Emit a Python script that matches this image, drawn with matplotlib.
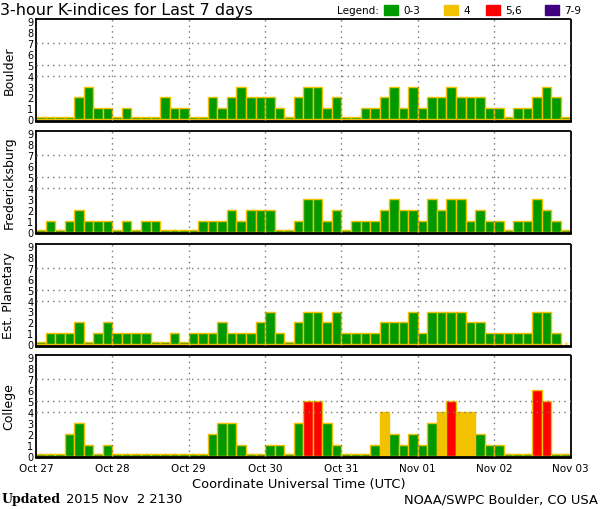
import numpy as np
import matplotlib
matplotlib.use('Agg')
import matplotlib.pyplot as plt

# K-index values, 8 slots per day, Oct 27 .. Nov 02 (None = no data yet)
boulder = [0, 0, 0, 0, 2, 3, 1, 1,  0, 1, 0, 0, 0, 2, 1, 1,
           0, 0, 2, 1, 2, 3, 2, 2,  2, 1, 0, 2, 3, 3, 1, 2,
           0, 0, 1, 1, 2, 3, 1, 3,  1, 2, 2, 3, 2, 2, 2, 1,
           1, 0, 1, 1, 2, 3, 2, 0]
fredericksburg = [0, 1, 0, 1, 2, 1, 1, 1,  0, 1, 0, 1, 1, 0, 0, 0,
                  0, 1, 1, 1, 2, 1, 2, 2,  2, 0, 0, 1, 3, 3, 1, 2,
                  0, 1, 1, 1, 2, 3, 2, 2,  1, 3, 2, 3, 3, 1, 2, 1,
                  1, 0, 1, 1, 3, 2, 1, 0]
planetary = [0, 1, 1, 1, 2, 0, 1, 2,  1, 1, 1, 1, 0, 0, 1, 0,
             1, 1, 1, 2, 1, 1, 1, 2,  3, 1, 0, 2, 3, 3, 2, 3,
             1, 1, 1, 1, 2, 2, 2, 3,  1, 3, 3, 3, 3, 2, 2, 1,
             1, 1, 1, 1, 3, 3, 1, None]
college = [0, 0, 0, 2, 3, 1, 0, 1,  0, 0, 0, 0, 0, 0, 0, 0,
           0, 0, 2, 3, 3, 1, 0, 0,  1, 1, 0, 3, 5, 5, 3, 1,
           0, 0, 0, 1, 4, 2, 1, 2,  1, 3, 4, 5, 4, 4, 2, 1,
           1, 0, 0, 0, 6, 5, 0, 0]

stations = ['Boulder', 'Fredericksburg', 'Est. Planetary', 'College']
series = [boulder, fredericksburg, planetary, college]
day_labels = ['Oct 27', 'Oct 28', 'Oct 29', 'Oct 30', 'Oct 31', 'Nov 01', 'Nov 02', 'Nov 03']

GREEN = '#009900'
YELLOW = '#F2C200'
RED = '#FF0000'
PURPLE = '#400080'
EDGE = '#F2C200'

def kcolor(k):
    if k <= 3:
        return GREEN
    if k == 4:
        return YELLOW
    if k <= 6:
        return RED
    return PURPLE

fig = plt.figure(figsize=(6, 5.1), dpi=100)
W, H = 600.0, 510.0
left, right = 36.0, 570.5
tops = [19.5, 132.0, 244.5, 356.0]
ph = 102.0

for n, (name, vals) in enumerate(zip(stations, series)):
    ax = fig.add_axes([left / W, 1 - (tops[n] + ph) / H, (right - left) / W, ph / H])
    idx = [i for i, v in enumerate(vals) if v is not None]
    kv = [vals[i] for i in idx]
    heights = [v if v > 0 else 0.18 for v in kv]
    ax.bar(idx, heights, width=1, align='edge', color=[kcolor(v) for v in kv],
           edgecolor=EDGE, linewidth=1.0, zorder=2)

    ax.set_xlim(0, 56)
    ax.set_ylim(-0.1, 9.2)
    # dotted grid on top of bars
    for y in [4, 5, 7]:
        ax.axhline(y, color='#777777', ls=(0, (1, 3)), lw=1.0, zorder=3)
    for d in range(1, 7):
        ax.axvline(d * 8, color='#777777', ls=(0, (1, 3)), lw=1.0, zorder=3)

    ax.set_yticks(range(10))
    ax.set_yticklabels([str(i) for i in range(10)], fontsize=7)
    ax.tick_params(axis='y', length=0, pad=2)
    ax.set_xticks(np.arange(0, 57, 8))
    ax.set_xticks(np.arange(0.5, 56, 1), minor=True)
    ax.tick_params(axis='x', which='major', length=0)
    ax.tick_params(axis='x', which='minor', direction='in', length=3, width=1, color=EDGE)
    if n == 3:
        ax.set_xticklabels(day_labels, fontsize=7.5)
        ax.tick_params(axis='x', which='major', pad=4)
    else:
        ax.set_xticklabels([])

    for s in ['top', 'left']:
        ax.spines[s].set_linewidth(1.3)
    ax.spines['bottom'].set_linewidth(2)
    ax.spines['right'].set_linestyle((0, (2, 1)))
    ax.spines['right'].set_linewidth(1.3)

    fig.text(9 / W, 1 - (tops[n] + ph / 2) / H, name, rotation=90,
             ha='center', va='center', fontsize=9)

fig.text(0, 1 - 10 / H, '3-hour K-indices for Last 7 days', fontsize=11.5,
         ha='left', va='center')

# legend row
fig.text(337 / W, 1 - 11 / H, 'Legend:', fontsize=7.5, ha='left', va='center')
for x0, col, lab in [(384, GREEN, '0-3'), (444, YELLOW, '4'), (486, RED, '5,6'), (545, PURPLE, '7-9')]:
    fig.patches.append(plt.Rectangle((x0 / W, 1 - 16 / H), 14 / W, 10 / H,
                                     color=col, transform=fig.transFigure, figure=fig))
    fig.text((x0 + 19) / W, 1 - 11 / H, lab, fontsize=7.5, ha='left', va='center')

fig.text(299 / W, 1 - 485 / H, 'Coordinate Universal Time (UTC)', fontsize=9.4,
         ha='center', va='center')
fig.text(2 / W, 1 - 500 / H, 'Updated', fontsize=9, fontweight='bold',
         family='DejaVu Serif', ha='left', va='center')
fig.text(66 / W, 1 - 500 / H, '2015 Nov  2 2130', fontsize=9.4, ha='left', va='center')
fig.text(598 / W, 1 - 500 / H, 'NOAA/SWPC Boulder, CO USA', fontsize=9.4,
         ha='right', va='center')

fig.savefig('out.png', dpi=100)
